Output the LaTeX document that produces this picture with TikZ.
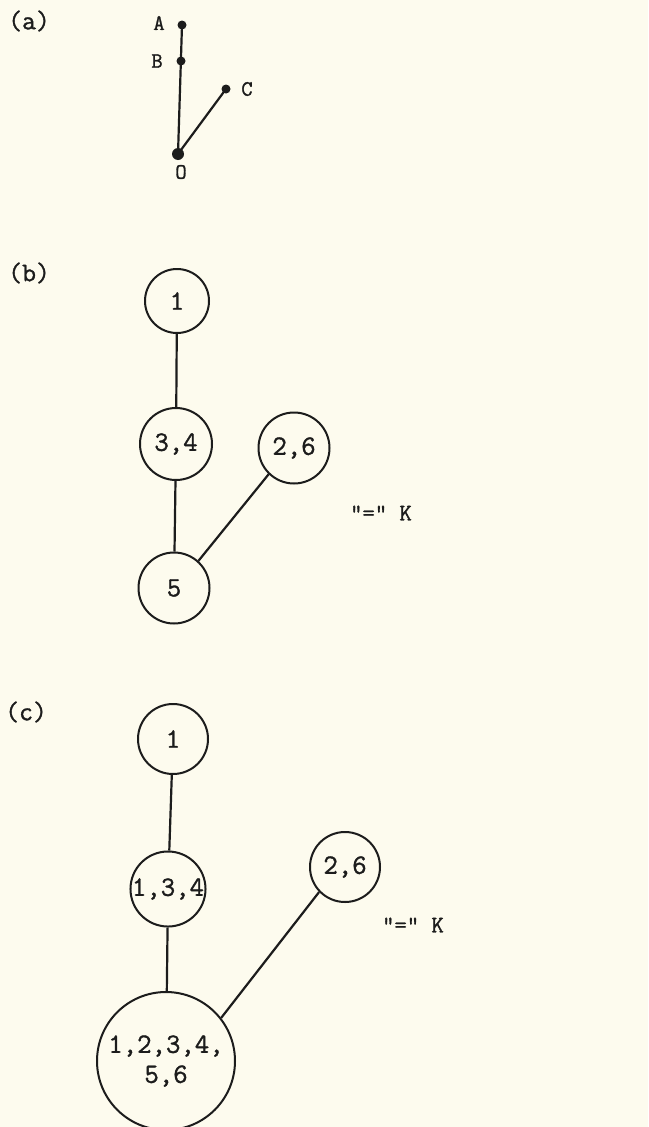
\documentclass[tikz,border=0pt]{standalone}
\usepackage{fontspec}
\newfontfamily\typew{Latin Modern Mono}[FakeBold=1.2]
\definecolor{paper}{RGB}{253,251,238}
\definecolor{ink}{RGB}{28,28,28}
\begin{document}
\begin{tikzpicture}[x=1pt,y=-1pt,
  vtx/.style={circle, draw=ink, line width=2pt, inner sep=0pt, text=ink,
    align=center, font=\typew\fontsize{28}{30}\selectfont},
  edge/.style={draw=ink, line width=2.2pt},
  dot/.style={circle, fill=ink, inner sep=0pt, minimum size=9pt},
  lbl/.style={text=ink, inner sep=0pt, font=\typew\fontsize{22}{24}\selectfont},
  panel/.style={text=ink, inner sep=0pt, anchor=west, font=\typew\fontsize{27}{29}\selectfont},
  kay/.style={text=ink, inner sep=0pt, font=\typew\fontsize{24}{26}\selectfont}]
\fill[paper] (0,0) rectangle (648,1127);
\useasboundingbox (0,0) rectangle (648,1127);

% (a)
\node[panel] (pa) at (8,21) {(a)};
\node[dot] (A) at (182,25) {};
\node[dot] (B) at (181,61) {};
\node[dot] (C) at (226,89) {};
\node[dot, minimum size=12pt] (O) at (178,154) {};
\node[lbl] (lA) at (159,23) {A};
\node[lbl] (lB) at (157,61) {B};
\node[lbl] (lC) at (247,89) {C};
\node[lbl] (lO) at (181,172) {O};
\draw[edge] (A.center) -- (O.center);
\draw[edge] (C.center) -- (O.center);

% (b)
\node[panel] (pb) at (8,273) {(b)};
\node[vtx, minimum size=64pt] (b1)  at (177,301) {1};
\node[vtx, minimum size=72pt] (b34) at (176,444) {3,4};
\node[vtx, minimum size=71pt] (b26) at (294,448) {2,6};
\node[vtx, minimum size=71pt] (b5)  at (174,588) {5};
\node[kay] (kb) at (381,513) {"=" K};
\draw[edge] (b1) -- (b34);
\draw[edge] (b34) -- (b5);
\draw[edge] (b26.226) -- (b5.48);

% (c)
\node[panel] (pc) at (5,712) {(c)};
\node[vtx, minimum size=70pt] (c1)   at (173,739) {1};
\node[vtx, minimum size=73pt] (c134) at (168,889) {1,3,4};
\node[vtx, minimum size=70pt] (c26)  at (345,867) {2,6};
\node[vtx, minimum size=138pt] (cbig) at (166,1061) {1,2,3,4,\\5,6};
\node[kay] (kc) at (413,925) {"=" K};
\draw[edge] (c1) -- (c134);
\draw[edge] (c134) -- (cbig);
\draw[edge] (c26.224) -- (cbig.38);
\end{tikzpicture}
\end{document}
